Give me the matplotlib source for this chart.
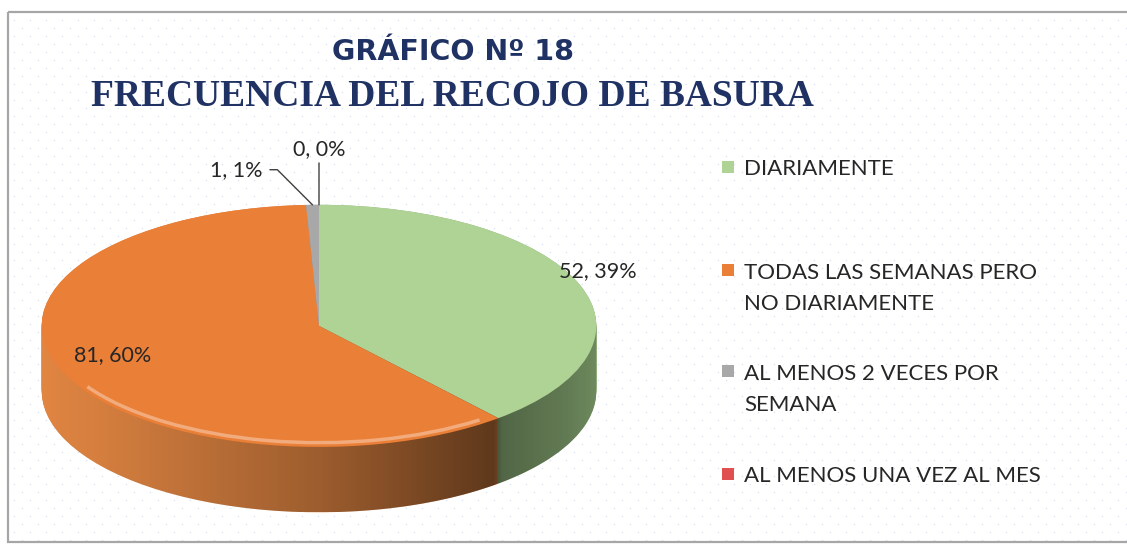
import numpy as np
import matplotlib.pyplot as plt
from matplotlib.patches import Rectangle, Polygon, Arc

W, H = 1127, 544

TITLE_1 = "GRÁFICO Nº 18"
TITLE_2 = "FRECUENCIA DEL RECOJO DE BASURA"

CATEGORIES = ["DIARIAMENTE", "TODAS LAS SEMANAS PERO NO DIARIAMENTE",
              "AL MENOS 2 VECES POR SEMANA", "AL MENOS UNA VEZ AL MES"]
LEGEND_LABELS = ["DIARIAMENTE", "TODAS LAS SEMANAS PERO\nNO DIARIAMENTE",
                 "AL MENOS 2 VECES POR\nSEMANA", "AL MENOS UNA VEZ AL MES"]
VALUES = [52, 81, 1, 0]

COLORS = ["#aed395", "#ea7f37", "#a8a8a8", "#e05050"]
SIDE_COLORS = ["#8db078", "#e08542", "#8a8a8a", "#b03a3a"]
NAVY = "#1f3263"

LABEL_FONT = ["Lato", "DejaVu Sans"]


def fx(x):
    return x / W


def fy(y):
    return 1 - y / H


fig = plt.figure(figsize=(W / 100, H / 100), dpi=100)
fig.patch.set_facecolor("white")

# dotted background of the chart area
bg = fig.add_axes([0, 0, 1, 1])
bg.set_xlim(0, W)
bg.set_ylim(H, 0)
bg.axis("off")
gx, gy = np.meshgrid(np.arange(0, W, 16), np.arange(20, H, 8))
gx = gx + (np.arange(gy.shape[0])[:, None] % 2) * 8
bg.scatter(gx.ravel() + 14, gy.ravel(), s=1.2, color="#dce5f4", linewidths=0)
bg.add_patch(Rectangle((8, 12), W + 10, 530, fill=False, edgecolor="#a6a6a6", lw=1.6))

# pie in a stretched axes so that it looks tilted
ax = fig.add_axes([fx(14), 7.5 / H, 610 / W, 368 / H])
depth = 0.54
total = sum(VALUES)

for t in np.linspace(depth, 0, 70):
    ax.pie(VALUES, colors=SIDE_COLORS, startangle=90, counterclock=False,
           center=(0, -t), wedgeprops=dict(linewidth=0))

# shading of the side, light on the left, dark on the right
theta = np.linspace(np.pi, 2 * np.pi, 200)
band = np.column_stack([np.cos(theta), np.sin(theta) - depth])
band = np.vstack([band, [[1, 0], [-1, 0]]])
clip = Polygon(band, closed=True, transform=ax.transData, facecolor="none", edgecolor="none")
ax.add_patch(clip)
xs = np.linspace(-1, 1, 400)
alpha = np.interp(xs, [-1, -0.8, 0, 0.63, 0.66, 0.9, 1],
                  [0.0, 0.05, 0.3, 0.58, 0.42, 0.3, 0.22])
grad = np.zeros((1, 400, 4))
grad[..., 3] = alpha
img = ax.imshow(grad, extent=(-1, 1, -depth - 1, 0), aspect="auto", zorder=2)
img.set_clip_path(clip)

wedges, _ = ax.pie(VALUES, colors=COLORS, startangle=90, counterclock=False,
                   wedgeprops=dict(linewidth=0))
for w in wedges:
    w.set_zorder(3)

rim = Arc((0, 0.02), 1.97, 1.97, theta1=212, theta2=306, color="white", lw=2.5,
          alpha=0.35, zorder=4)
ax.add_patch(rim)

ax.set_aspect("auto")
ax.set_xlim(-1.1, 1.1)
ax.set_ylim(-1.74, 1.3)
ax.axis("off")

labels = [f"{v}, {round(100 * v / total)}%" for v in VALUES]
mids = [np.deg2rad((w.theta1 + w.theta2) / 2) for w in wedges]

# big slices: label inside / on the edge
for i, (r, dy) in zip([0, 1], [(1.07, 0.08), (0.8, 0.05)]):
    ax.text(r * np.cos(mids[i]), r * np.sin(mids[i]) + dy, labels[i],
            ha="center", va="center", fontsize=15.5, family=LABEL_FONT,
            color="#262626", zorder=5)

# tiny slices: labels with leader lines
ax.annotate(labels[2], xy=(np.cos(mids[2]), np.sin(mids[2])), xytext=(-0.202, 1.29),
            ha="right", va="center", fontsize=15.5, family=LABEL_FONT, color="#262626",
            arrowprops=dict(arrowstyle="-", color="#404040", lw=1, relpos=(1, 0.5),
                            shrinkA=3, shrinkB=0,
                            connectionstyle="angle,angleA=0,angleB=135,rad=0"))
ax.annotate(labels[3], xy=(np.cos(mids[3]), np.sin(mids[3])), xytext=(0, 1.463),
            ha="center", va="center", fontsize=15.5, family=LABEL_FONT, color="#262626",
            arrowprops=dict(arrowstyle="-", color="#404040", lw=1, relpos=(0.5, 0),
                            shrinkA=1, shrinkB=0))

# titles
fig.text(fx(453), fy(52), TITLE_1, ha="center", va="center", fontsize=20.5,
         fontweight="bold", color=NAVY, family=["DejaVu Sans"])
fig.text(fx(452), fy(97), TITLE_2, ha="center", va="center", fontsize=27,
         fontweight="bold", color=NAVY, family=["Liberation Serif", "DejaVu Serif"])

# legend: marker next to the first line of each entry
first_lines = [175, 277.5, 379, 482]
line_gap = 32
for lab, col, yb in zip(LEGEND_LABELS, COLORS, first_lines):
    n = lab.count("\n")
    bg.scatter([728], [yb - 8], s=70, marker="s", color=col, linewidths=0, zorder=5)
    bg.text(744, yb + n * line_gap, lab, ha="left", va="baseline", fontsize=16,
            family=LABEL_FONT, color="#262626", linespacing=1.66)

fig.savefig("out.png", dpi=100)
